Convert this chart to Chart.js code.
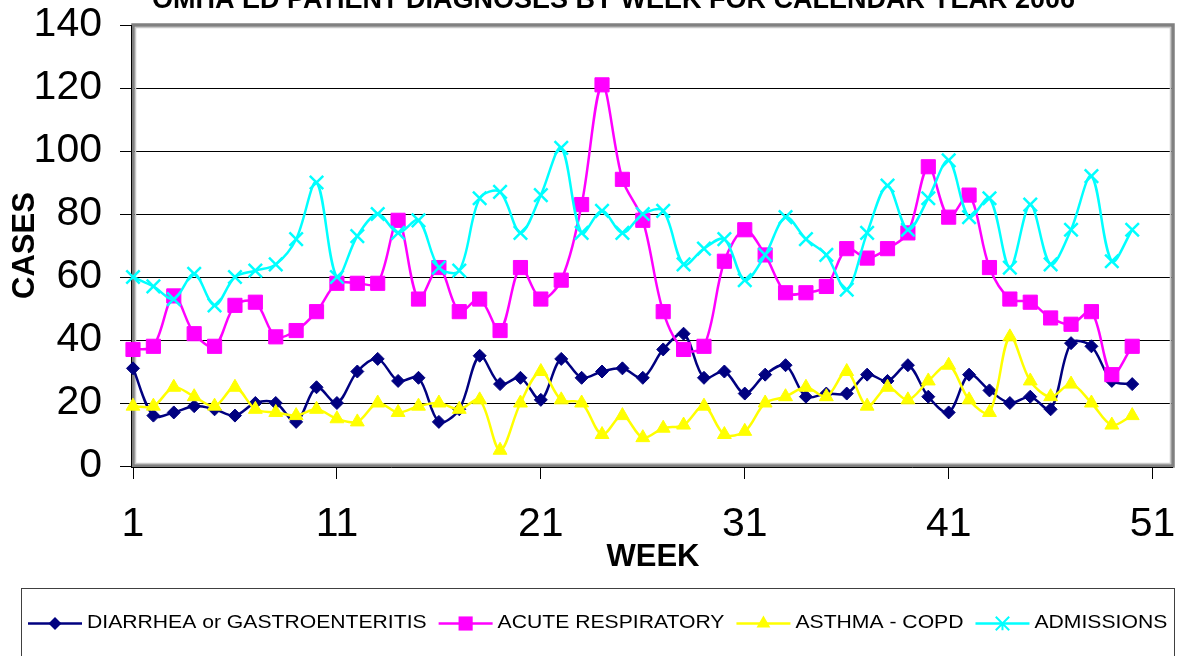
<!DOCTYPE html>
<html>
<head>
<meta charset="utf-8">
<title>OMHA ED patient diagnoses by week</title>
<script src="https://cdn.jsdelivr.net/npm/chart.js"></script>
<style>
  html, body { margin: 0; padding: 0; background: #fff; overflow: hidden; }
  #wrap { position: relative; width: 1181px; height: 656px; }
</style>
</head>
<body>
<div id="wrap"><canvas id="chart"></canvas></div>
<script>
var chartTitle = 'OMHA ED PATIENT DIAGNOSES BY WEEK FOR CALENDAR YEAR 2006';
var weeks = [1,2,3,4,5,6,7,8,9,10,11,12,13,14,15,16,17,18,19,20,21,22,23,24,25,
  26,27,28,29,30,31,32,33,34,35,36,37,38,39,40,41,42,43,44,45,46,47,48,49,50];
var weekTicks = [1, 11, 21, 31, 41, 51];
var caseTicks = [0, 20, 40, 60, 80, 100, 120, 140];
var seriesNames = ['DIARRHEA or GASTROENTERITIS', 'ACUTE RESPIRATORY', 'ASTHMA - COPD', 'ADMISSIONS'];

var diarrhea = [31,16,17,19,18,16,20,20,14,25,20,30,34,27,28,14,18,35,26,28,21,34,28,30,31,
  28,37,42,28,30,23,29,32,22,23,23,29,27,32,22,17,29,24,20,22,18,39,38,27,26];
var acuteResp = [37,38,54,42,38,51,52,41,43,49,58,58,58,78,53,63,49,53,43,63,53,59,83,121,91,
  78,49,37,38,65,75,67,55,55,57,69,66,69,74,95,79,86,63,53,52,47,45,49,29,38];
var asthma = [19,19,25,22,19,25,18,17,16,18,15,14,20,17,19,20,18,21,5,20,30,21,20,10,16,
  9,12,13,19,10,11,20,22,25,22,30,19,25,21,27,32,21,17,41,27,22,26,20,13,16];
var admissions = [60,57,53,61,51,60,62,64,72,90,60,73,80,74,78,63,62,85,87,74,86,101,74,81,74,
  80,81,64,69,72,59,67,79,72,67,56,74,89,75,85,97,79,85,63,83,64,75,92,65,75];

var FONT = '"Liberation Sans", Arial, Helvetica, sans-serif';

function toPoints(values){
  return values.map(function(v, i){ return {x: weeks[i], y: v}; });
}

// marker shapes for the hand drawn legend
function drawMarker(ctx, style, x, y, r, color){
  ctx.save();
  ctx.fillStyle = color;
  ctx.strokeStyle = color;
  ctx.beginPath();
  if (style === 'rectRot') {
    ctx.moveTo(x, y - r); ctx.lineTo(x + r, y); ctx.lineTo(x, y + r); ctx.lineTo(x - r, y);
    ctx.closePath(); ctx.fill();
  } else if (style === 'rect') {
    var s = r * Math.SQRT1_2;
    ctx.rect(x - s, y - s, 2 * s, 2 * s); ctx.fill();
  } else if (style === 'triangle') {
    ctx.moveTo(x, y - r); ctx.lineTo(x + r * 0.866, y + r / 2); ctx.lineTo(x - r * 0.866, y + r / 2);
    ctx.closePath(); ctx.fill();
  } else {
    var c = r * Math.SQRT1_2;
    ctx.lineWidth = 2;
    ctx.moveTo(x - c, y - c); ctx.lineTo(x + c, y + c);
    ctx.moveTo(x - c, y + c); ctx.lineTo(x + c, y - c);
    ctx.moveTo(x, y); ctx.lineTo(x, y + c);
    ctx.stroke();
  }
  ctx.restore();
}

var plotFrame = {
  id: 'plotFrame',
  beforeDatasetsDraw: function(chart){
    var a = chart.chartArea, ctx = chart.ctx;
    ctx.save();
    ctx.strokeStyle = '#c8c8c8';
    ctx.lineWidth = 1.5;
    ctx.strokeRect(a.left + 2.5, a.top + 2.5, a.right - a.left - 5, a.bottom - a.top - 5);
    ctx.strokeStyle = '#808080';
    ctx.lineWidth = 3.5;
    ctx.strokeRect(a.left, a.top, a.right - a.left, a.bottom - a.top);
    ctx.strokeStyle = '#000';
    ctx.lineWidth = 1;
    ctx.beginPath();
    ctx.moveTo(a.left - 1.5, a.top); ctx.lineTo(a.left - 1.5, a.bottom + 1);
    ctx.moveTo(a.left - 2, a.bottom + 1.5); ctx.lineTo(a.right, a.bottom + 1.5);
    ctx.stroke();
    ctx.restore();
  }
};

var topTitle = {
  id: 'topTitle',
  afterDraw: function(chart){
    var ctx = chart.ctx;
    ctx.save();
    ctx.font = 'bold 27px ' + FONT;
    ctx.fillStyle = '#000';
    ctx.textAlign = 'center';
    ctx.textBaseline = 'alphabetic';
    ctx.fillText(chartTitle, 613.5, 8);
    ctx.restore();
  }
};

var boxLegend = {
  id: 'boxLegend',
  afterDraw: function(chart){
    var ctx = chart.ctx;
    ctx.save();
    ctx.strokeStyle = '#404040';
    ctx.lineWidth = 1;
    ctx.strokeRect(21.5, 588.5, 1153, 90);
    ctx.font = '18px ' + FONT;
    ctx.textBaseline = 'middle';
    ctx.fillStyle = '#000';
    var x = 28, y = 623.5, stretch = 1.175;
    chart.data.datasets.forEach(function(ds){
      ctx.strokeStyle = ds.borderColor;
      ctx.lineWidth = 2.5;
      ctx.beginPath();
      ctx.moveTo(x, y); ctx.lineTo(x + 54, y);
      ctx.stroke();
      drawMarker(ctx, ds.pointStyle, x + 27, y, ds.pointRadius, ds.borderColor);
      ctx.save();
      ctx.translate(x + 59, y);
      ctx.scale(stretch, 1);
      ctx.fillText(ds.label, 0, 0);
      ctx.restore();
      x = x + 59 + ctx.measureText(ds.label).width * stretch + 12;
    });
    ctx.restore();
  }
};

function series(name, values, color, style, radius, order){
  return {
    label: name,
    data: toPoints(values),
    borderColor: color,
    backgroundColor: color,
    borderWidth: 2.5,
    pointStyle: style,
    pointRadius: radius,
    pointBorderWidth: style === 'crossRot' ? 2.5 : 1,
    pointBackgroundColor: color,
    pointBorderColor: color,
    tension: 0.33,
    clip: false,
    order: order
  };
}

var ctx = document.getElementById('chart').getContext('2d');
var myChart = new Chart(ctx, {
  type: 'line',
  data: {
    datasets: [
      series(seriesNames[0], diarrhea, '#000080', 'rectRot', 6.5, 3),
      series(seriesNames[1], acuteResp, '#ff00ff', 'rect', 10, 2),
      series(seriesNames[2], asthma, '#ffff00', 'triangle', 8, 1),
      series(seriesNames[3], admissions, '#00ffff', 'crossRot', 9.5, 0)
    ]
  },
  options: {
    responsive: true,
    maintainAspectRatio: false,
    animation: false,
    layout: { autoPadding: false, padding: { left: 0, top: 25, right: 8, bottom: 76 } },
    plugins: {
      legend: { display: false },
      title: { display: false },
      tooltip: { enabled: false }
    },
    scales: {
      x: {
        type: 'linear',
        min: 1,
        max: 52,
        afterBuildTicks: function(scale){
          scale.ticks = weekTicks.map(function(v){ return {value: v}; });
        },
        afterFit: function(scale){
          scale.height = 114;
          scale.paddingLeft = 0;
          scale.paddingRight = 0;
        },
        grid: { drawOnChartArea: false, drawTicks: true, tickLength: 13, tickColor: '#000', tickWidth: 1 },
        border: { display: false },
        ticks: {
          color: '#000', padding: 25, maxRotation: 0, autoSkip: false,
          font: { family: FONT, size: 41, lineHeight: 1 }
        },
        title: {
          display: true, text: 'WEEK', color: '#000',
          font: { family: FONT, size: 31, weight: 'bold', lineHeight: 1 },
          padding: { top: 0, bottom: 7 }
        }
      },
      y: {
        min: 0,
        max: 140,
        afterBuildTicks: function(scale){
          scale.ticks = caseTicks.map(function(v){ return {value: v}; });
        },
        afterFit: function(scale){
          scale.width = 133;
          scale.paddingTop = 0;
          scale.paddingBottom = 0;
        },
        grid: { color: '#000', lineWidth: 1, tickLength: 13, tickColor: '#000' },
        border: { display: false },
        ticks: {
          color: '#000', padding: 18,
          font: { family: FONT, size: 41, lineHeight: 1 }
        },
        title: {
          display: true, text: 'CASES', color: '#000',
          font: { family: FONT, size: 31, weight: 'bold', lineHeight: 1 },
          padding: { top: 9.5, bottom: 0 }
        }
      }
    }
  },
  plugins: [plotFrame, topTitle, boxLegend]
});
</script>
</body>
</html>
